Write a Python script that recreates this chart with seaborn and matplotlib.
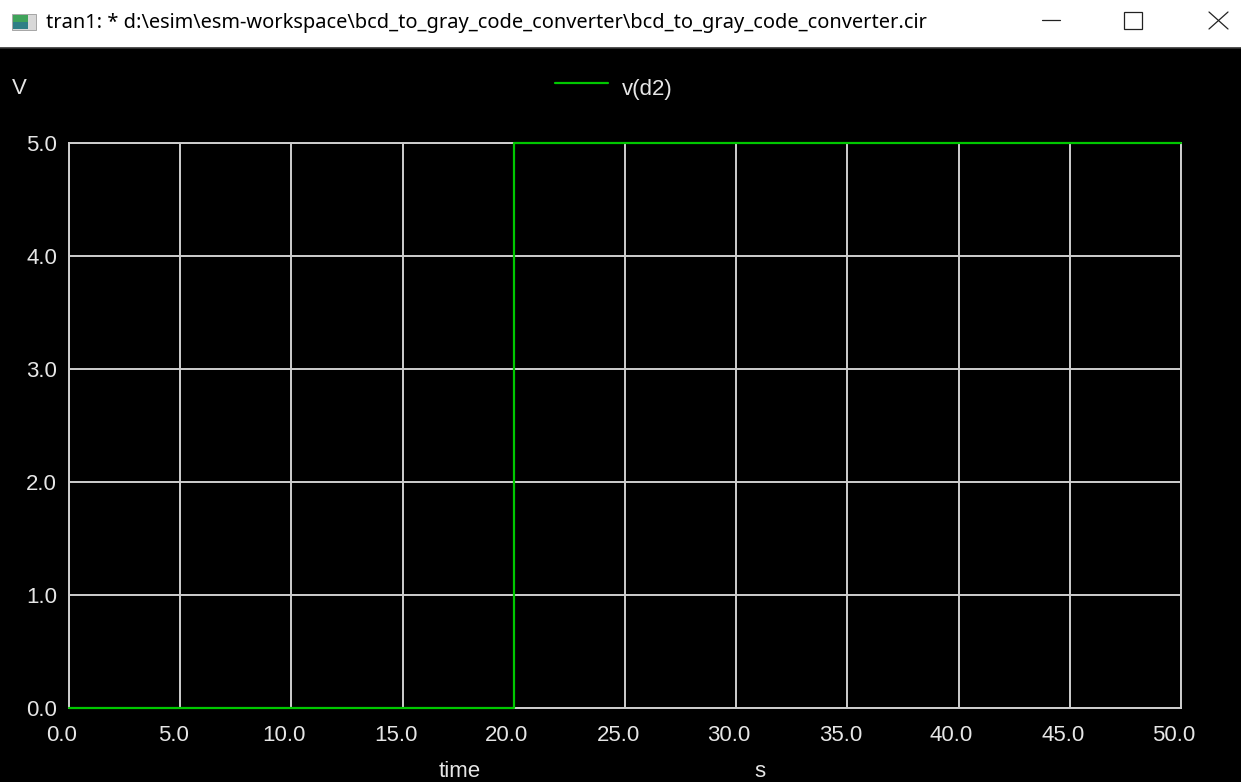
import numpy as np
import pandas as pd
import matplotlib
matplotlib.use("Agg")
import matplotlib.pyplot as plt
import matplotlib.transforms as mtransforms
from matplotlib.lines import Line2D
from matplotlib.patches import Rectangle
import seaborn as sns

# Transient result: node d2 switches from 0 V to 5 V at t = 20 s
time_s = [0.0, 20.0, 50.0]
v_d2 = [0.0, 5.0, 5.0]
series_name = "v(d2)"
x_ticks = [0.0, 5.0, 10.0, 15.0, 20.0, 25.0, 30.0, 35.0, 40.0, 45.0, 50.0]
y_ticks = [0.0, 1.0, 2.0, 3.0, 4.0, 5.0]
window_title = r"tran1: * d:\esim\esm-workspace\bcd_to_gray_code_converter\bcd_to_gray_code_converter.cir"

W, H, DPI = 1241, 782, 100
GRID = "#cfcfcf"
TEXT = "#e6e6e6"
TRACE = "#00c800"

sns.set_theme(style="dark")
plt.rcParams["font.family"] = ["Liberation Sans", "DejaVu Sans"]


def fx(px):
    return px / W


def fy(py):
    return 1 - py / H


fig = plt.figure(figsize=(W / DPI, H / DPI), dpi=DPI, facecolor="black")
ax = fig.add_axes([fx(69), fy(708), fx(1181) - fx(69), fy(143) - fy(708)])
ax.set_facecolor("black")

df = pd.DataFrame({"time": time_s, series_name: v_d2})
sns.lineplot(data=df, x="time", y=series_name, drawstyle="steps-post",
             estimator=None, color=TRACE, linewidth=1.6, ax=ax,
             label=series_name, zorder=5)
ax.lines[0].set_clip_on(False)

ax.set_xlim(0, 50)
ax.set_ylim(0, 5)
ax.set_xticks(x_ticks)
ax.set_xticklabels([f"{t:.1f}" for t in x_ticks])
ax.set_yticks(y_ticks)
ax.set_yticklabels([f"{t:.1f}" for t in y_ticks])
ax.set_xlabel("")
ax.set_ylabel("")
ax.grid(True, color=GRID, linewidth=1.4)
ax.set_axisbelow(True)
for sp in ax.spines.values():
    sp.set_visible(True)
    sp.set_color(GRID)
    sp.set_linewidth(1.4)
ax.tick_params(length=0, colors=TEXT, labelsize=16)
ax.tick_params(axis="x", pad=12)
ax.tick_params(axis="y", pad=8.6)
shift = mtransforms.ScaledTranslation(-7 / DPI, 0, fig.dpi_scale_trans)
for lbl in ax.get_xticklabels():
    lbl.set_transform(lbl.get_transform() + shift)

leg = ax.legend(loc="center left", bbox_to_anchor=(fx(555), fy(85)),
                bbox_transform=fig.transFigure, frameon=False,
                handlelength=2.39, handletextpad=0.63, borderpad=0,
                borderaxespad=0, fontsize=16, labelcolor=TEXT)
# legend label sits a little lower than its line sample
drop = mtransforms.ScaledTranslation(0, -5 / DPI, fig.dpi_scale_trans)
for t in leg.get_texts():
    t.set_transform(t.get_transform() + drop)

fig.text(fx(12), fy(89), "V", ha="left", va="center", color=TEXT, fontsize=16)
fig.text(fx(460), fy(777), "time", ha="center", va="baseline", color=TEXT, fontsize=16)
fig.text(fx(760), fy(777), "s", ha="center", va="baseline", color=TEXT, fontsize=16)

# Window title bar
fig.add_artist(Rectangle((0, fy(48)), 1, 48 / H, transform=fig.transFigure,
                         facecolor="white", edgecolor="none", zorder=0))
fig.add_artist(Line2D([0, 1], [fy(48), fy(48)], transform=fig.transFigure,
                      color="#333333", linewidth=1.2))
fig.add_artist(Rectangle((fx(12), fy(30)), 24 / W, 16 / H, transform=fig.transFigure,
                         facecolor="#d8d8d8", edgecolor="#9a9a9a", linewidth=0.6))
fig.add_artist(Rectangle((fx(13), fy(29)), 15 / W, 14 / H, transform=fig.transFigure,
                         facecolor="#2f7f86", edgecolor="none"))
fig.add_artist(Rectangle((fx(13), fy(22)), 15 / W, 7 / H, transform=fig.transFigure,
                         facecolor="#3fa35a", edgecolor="none"))
fig.text(fx(46), fy(23), window_title, ha="left", va="center", color="black",
         fontsize=14.4, family=["Noto Sans", "DejaVu Sans"])

# Minimise, maximise and close buttons
fig.add_artist(Line2D([fx(1042), fx(1060)], [fy(20), fy(20)],
                      transform=fig.transFigure, color="#222222", linewidth=0.9))
fig.add_artist(Rectangle((fx(1124), fy(29)), 18 / W, 17 / H, transform=fig.transFigure,
                         facecolor="none", edgecolor="#222222", linewidth=0.9))
fig.add_artist(Line2D([fx(1209), fx(1228)], [fy(12), fy(29)],
                      transform=fig.transFigure, color="#222222", linewidth=0.9))
fig.add_artist(Line2D([fx(1209), fx(1228)], [fy(29), fy(12)],
                      transform=fig.transFigure, color="#222222", linewidth=0.9))

fig.savefig("out.png", dpi=DPI, facecolor=fig.get_facecolor())
